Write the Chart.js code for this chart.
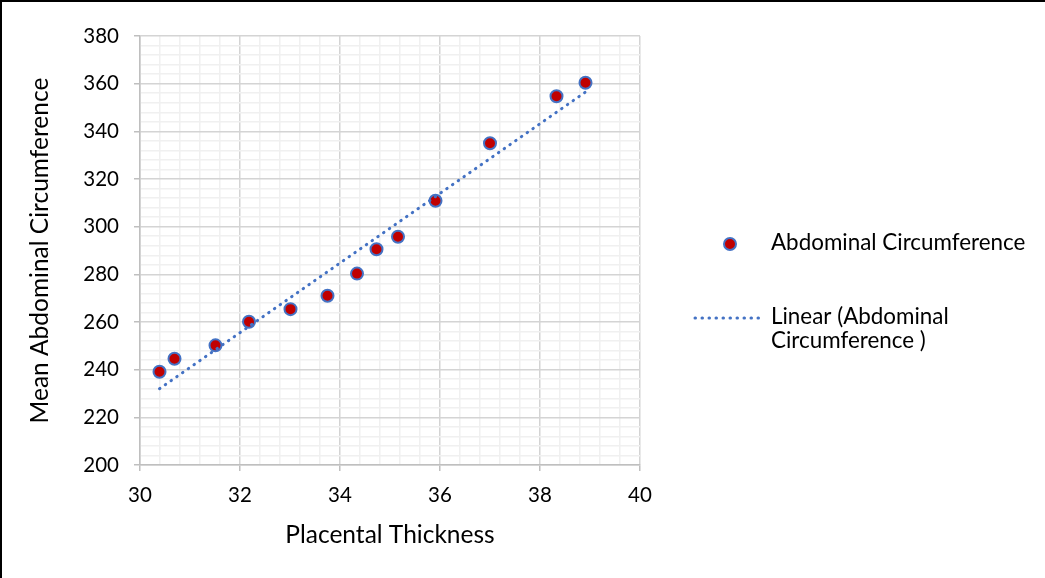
<!DOCTYPE html>
<html>
<head>
<meta charset="utf-8">
<script src="https://cdn.jsdelivr.net/npm/chart.js@4.4.1/dist/chart.umd.min.js"></script>
<style>
  html, body { margin: 0; padding: 0; background: #fff; }
  #marco {
    width: 1043px; height: 576px;
    border-left: 2px solid #000; border-top: 2px solid #000;
    position: relative;
  }
  canvas { display: block; }
</style>
</head>
<body>
<div id="marco"><canvas id="grafica" width="1043" height="576"></canvas></div>
<script>
// =================== Data ===================

// Placental thickness (x) of each measured point
const grosorPlacenta = [30.39, 30.69, 31.51, 32.18, 33.01, 33.75, 34.34, 34.73, 35.16, 35.91, 37.0, 38.33, 38.91];

// Mean abdominal circumference (y) of each point
const circAbdominal = [239.1, 244.6, 250.2, 260.1, 265.4, 271.0, 280.3, 290.5, 295.8, 310.9, 335.0, 354.7, 360.4];

// Ends of the linear trend line
const tendenciaX = [30.39, 38.91];
const tendenciaY = [232.0, 356.5];

// Labelled ticks of each axis
const ticksX = [30, 32, 34, 36, 38, 40];
const ticksY = [200, 220, 240, 260, 280, 300, 320, 340, 360, 380];

// Names
const NOMBRE_SERIE = "Abdominal Circumference";
const NOMBRE_TENDENCIA = ["Linear (Abdominal", "Circumference )"];

// =================== Helpers ===================

const FUENTE = "Lato, 'Open Sans', sans-serif";
const AZUL = "#4472c4";
const ROJO = "#c00000";

// true when v is one of the labelled ticks
function esMayor(v, lista) {
  const r = Math.round(v * 1000) / 1000;
  return lista.includes(r);
}

// Legend drawn by hand (the second entry wraps on two lines)
const leyendaPlugin = {
  id: "leyenda",
  afterDraw(chart) {
    const ctx = chart.ctx;
    const der = chart.chartArea.right;
    ctx.save();

    // entry 1: marker
    ctx.beginPath();
    ctx.arc(der + 90, 242, 6, 0, Math.PI * 2);
    ctx.fillStyle = ROJO;
    ctx.fill();
    ctx.lineWidth = 2;
    ctx.strokeStyle = AZUL;
    ctx.stroke();

    ctx.fillStyle = "#000";
    ctx.font = "22.4px " + FUENTE;
    ctx.textBaseline = "middle";
    ctx.fillText(NOMBRE_SERIE, der + 131, 241);

    // entry 2: dotted line
    ctx.beginPath();
    ctx.setLineDash([0.5, 6.5]);
    ctx.lineCap = "round";
    ctx.lineWidth = 3;
    ctx.moveTo(der + 55, 316);
    ctx.lineTo(der + 122, 316);
    ctx.stroke();
    ctx.setLineDash([]);

    ctx.fillText(NOMBRE_TENDENCIA[0], der + 131, 315);
    ctx.fillText(NOMBRE_TENDENCIA[1], der + 131, 339);
    ctx.restore();
  }
};

// =================== Chart ===================

const puntos = grosorPlacenta.map((x, i) => ({ x, y: circAbdominal[i] }));
const tendencia = tendenciaX.map((x, i) => ({ x, y: tendenciaY[i] }));

new Chart(document.getElementById("grafica"), {
  type: "scatter",
  data: {
    datasets: [
      {
        label: NOMBRE_TENDENCIA.join(" "),
        data: tendencia,
        type: "line",
        showLine: true,
        borderColor: AZUL,
        borderWidth: 3,
        borderDash: [0.5, 6.5],
        borderCapStyle: "round",
        pointRadius: 0,
        fill: false,
        order: 1
      },
      {
        label: NOMBRE_SERIE,
        data: puntos,
        pointRadius: 6,
        pointBackgroundColor: ROJO,
        pointBorderColor: AZUL,
        pointBorderWidth: 2,
        order: 2
      }
    ]
  },
  options: {
    responsive: false,
    animation: false,
    layout: { padding: { left: 0, top: 34, right: 405, bottom: 0 } },
    plugins: {
      legend: { display: false },
      tooltip: { enabled: false }
    },
    scales: {
      x: {
        type: "linear",
        min: 30,
        max: 40,
        afterFit: (s) => { s.height = 113; },
        border: { color: "#bfbfbf", width: 1.5 },
        grid: {
          color: (c) => esMayor(c.tick.value, ticksX) ? "#d4d4d4" : "#f0f0f0",
          tickColor: (c) => esMayor(c.tick.value, ticksX) ? "#bfbfbf" : "rgba(0,0,0,0)",
          lineWidth: 1.5,
          tickLength: 6
        },
        ticks: {
          stepSize: 0.4,
          maxTicksLimit: 100,
          autoSkip: false,
          maxRotation: 0,
          padding: 12,
          color: "#000",
          font: { family: FUENTE, size: 20.5 },
          callback: (v) => esMayor(v, ticksX) ? String(Math.round(v)) : ""
        },
        title: {
          display: true,
          text: "Placental Thickness",
          color: "#000",
          font: { family: FUENTE, size: 24.5 },
          padding: { top: 0, bottom: 28 }
        }
      },
      y: {
        min: 200,
        max: 380,
        afterFit: (s) => { s.width = 138; },
        border: { color: "#bfbfbf", width: 1.5 },
        grid: {
          color: (c) => esMayor(c.tick.value, ticksY) ? "#d4d4d4" : "#f0f0f0",
          tickColor: (c) => esMayor(c.tick.value, ticksY) ? "#bfbfbf" : "rgba(0,0,0,0)",
          lineWidth: 1.5,
          tickLength: 6
        },
        ticks: {
          stepSize: 4,
          maxTicksLimit: 100,
          autoSkip: false,
          padding: 15,
          color: "#000",
          font: { family: FUENTE, size: 20.5 },
          callback: (v) => esMayor(v, ticksY) ? String(Math.round(v)) : ""
        },
        title: {
          display: true,
          text: "Mean Abdominal Circumference",
          color: "#000",
          font: { family: FUENTE, size: 24.5 },
          padding: { top: 23, bottom: 0 }
        }
      }
    }
  },
  plugins: [leyendaPlugin]
});
</script>
</body>
</html>
